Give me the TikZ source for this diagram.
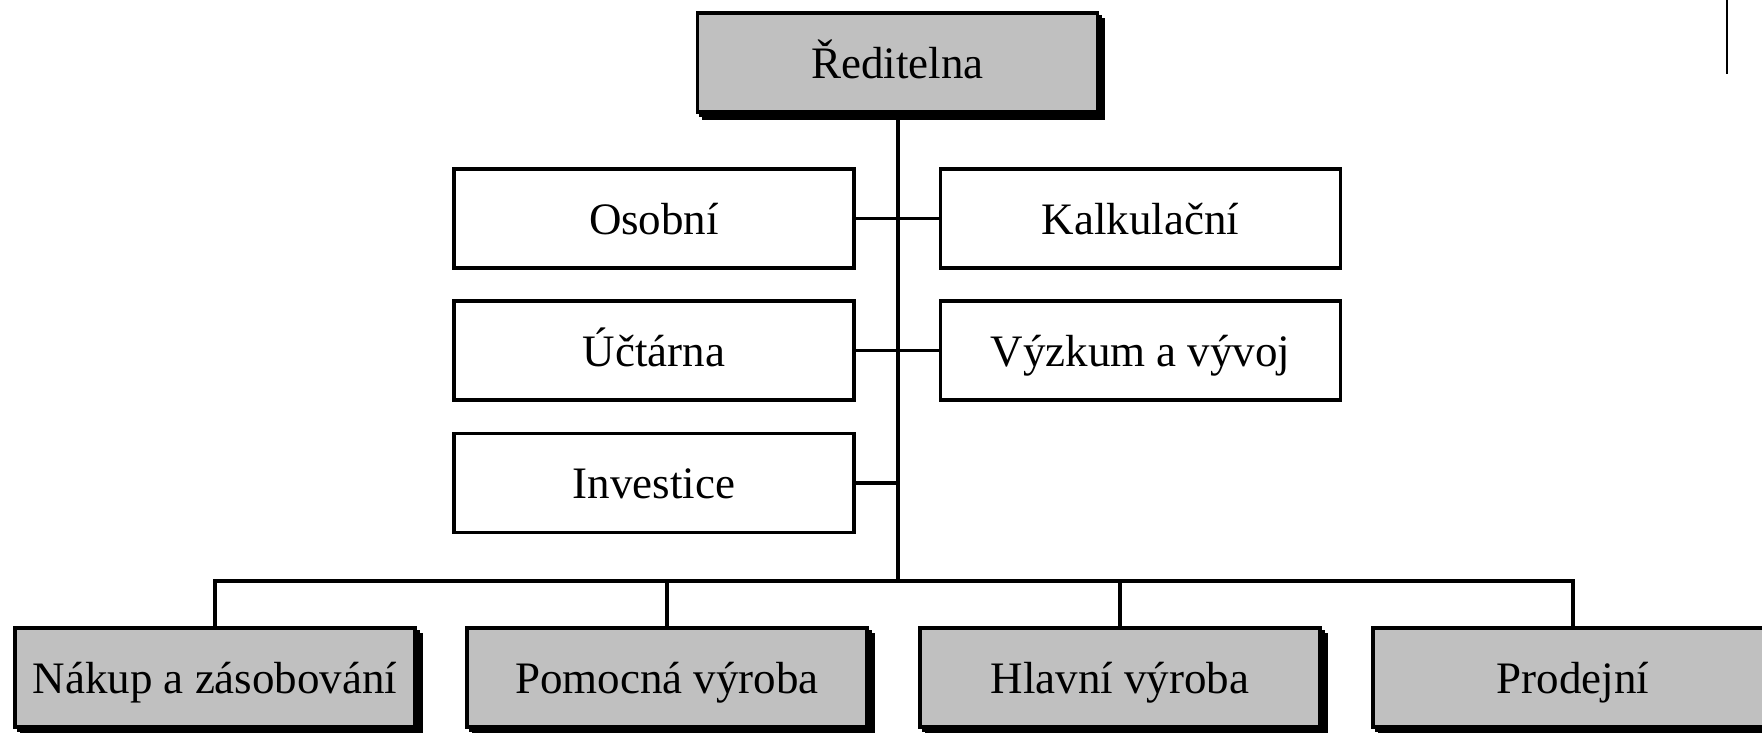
\documentclass[tikz,border=0pt]{standalone}
\usepackage{fontspec}
\setmainfont{Liberation Serif}
\usetikzlibrary{shadows,positioning}

\definecolor{boxgray}{HTML}{C0C0C0}

\tikzset{
  unit/.style={draw, line width=3.5pt, minimum width=400pt, minimum height=99pt,
    inner sep=0pt, text height=31pt, text depth=0pt,
    font=\fontsize{45}{54}\selectfont},
  office/.style={unit, fill=white},
  dept/.style={unit, fill=boxgray,
    general shadow={fill=black, draw=black, line width=3pt, shadow xshift=3pt, shadow yshift=-3pt},
    general shadow={fill=black, draw=black, line width=3pt, shadow xshift=6pt, shadow yshift=-6pt}},
  link/.style={line width=3.5pt}
}

\begin{document}
\begin{tikzpicture}[x=1pt, y=-1pt]
\useasboundingbox (0,0) rectangle (1762,732);

\node[dept] (reditelna) at (897.5, 62.5) {Ředitelna};

% staff offices
\node[office] (osobni) at (654, 218.5) {Osobní};
\node[office] (kalkulacni) at (1140.5, 218.5) {Kalkulační};
\node[office] (uctarna) at (654, 350.5) {Účtárna};
\node[office] (vyzkum) at (1140.5, 350.5) {Výzkum a vývoj};
\node[office] (investice) at (654, 483) {Investice};

% line departments
\node[dept] (nakup) at (215, 677.5) {Nákup a zásobování};
\node[dept] (pomocna) at (667, 677.5) {Pomocná výroba};
\node[dept] (hlavni) at (1120, 677.5) {Hlavní výroba};
\node[dept] (prodejni) at (1573, 677.5) {Prodejní};

\coordinate (bus) at (898, 581);
\draw[link] (reditelna.south -| bus) -- (bus);
\draw[link] (osobni.east) -- (kalkulacni.west);
\draw[link] (uctarna.east) -- (vyzkum.west);
\draw[link] (investice.east) -- (investice.east -| bus);
\draw[link] (nakup.north) |- (bus) -| (prodejni.north);
\draw[link] (pomocna.north) -- (pomocna.north |- bus);
\draw[link] (hlavni.north) -- (hlavni.north |- bus);

%\draw (1727, 0) -- (1727, 74);
\coordinate (edgetop) at (1727, 0);
\coordinate (edgebot) at (1727, 74);
\draw[line width=2pt] (edgetop) -- (edgebot);
\end{tikzpicture}
\end{document}
